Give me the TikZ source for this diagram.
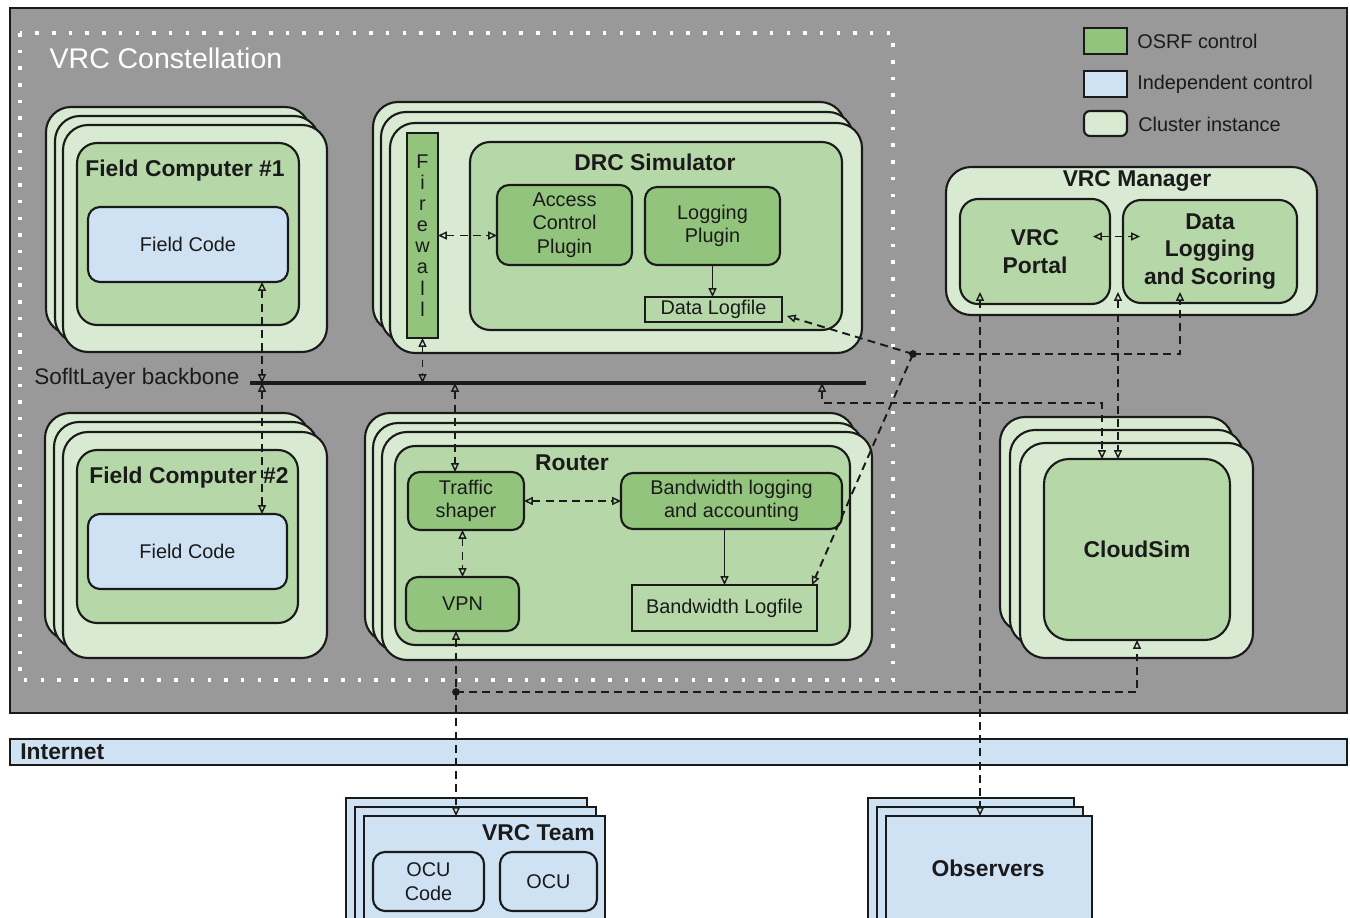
\documentclass[tikz,border=0pt]{standalone}
\usepackage{fontspec}
\setmainfont{Liberation Sans}
\usepackage{tikz}
\usetikzlibrary{arrows.meta}
\definecolor{bggray}{HTML}{999999}
\definecolor{clusterc}{HTML}{D9EAD3}
\definecolor{midgreen}{HTML}{B6D7A8}
\definecolor{darkgreen}{HTML}{93C47D}
\definecolor{lightblue}{HTML}{CFE2F3}
\definecolor{edge}{HTML}{1A1A1A}
\newcommand{\vrcreg}{\fontsize{11.3}{13.4}\selectfont}
\newcommand{\vrcbold}{\fontsize{13}{15.6}\selectfont\bfseries}

\begin{document}
\begin{tikzpicture}[x=0.02cm, y=-0.02cm,
    clusterbox/.style={draw=edge, line width=1.2pt, fill=clusterc, rounded corners=0.5cm},
    midbox/.style={draw=edge, line width=1.2pt, fill=midgreen, rounded corners=0.4cm, inner sep=0pt, outer sep=0pt},
    plugin/.style={draw=edge, line width=1.2pt, fill=darkgreen, rounded corners=0.24cm, inner sep=0pt, outer sep=0pt, align=center, font=\vrcreg, text=edge},
    fieldcode/.style={plugin, fill=lightblue},
    logfile/.style={plugin, fill=midgreen, rounded corners=0pt},
    headtxt/.style={font=\vrcbold, text=edge, align=center},
    dlink/.style={draw=edge, line width=1.1pt, dash pattern=on 4.5pt off 3pt, >={Triangle[open,length=5pt,width=4.5pt,line width=0.8pt]}},
    flow/.style={draw=edge, line width=1.1pt, ->, >={Triangle[open,length=5pt,width=4.5pt,line width=0.8pt]}}]
    \useasboundingbox (0,0) rectangle (1350,918);
    \clip (0,0) rectangle (1350,918);
    \fill[white] (0,0) rectangle (1350,918);
    \draw[fill=bggray, draw=edge, line width=1.2pt] (10,8) rectangle (1347,713);
    \draw[white, line width=2pt, dash pattern=on 2pt off 7.5pt] (20,33) rectangle (893,680);
    \node[white, font=\fontsize{16.2}{19}\selectfont] (con) at (166,58) {VRC Constellation};

    % legend
    \node[plugin, rounded corners=0pt, minimum width=0.86cm, minimum height=0.52cm] (lga) at (1105.5,41) {};
    \node[fieldcode, rounded corners=0pt, minimum width=0.86cm, minimum height=0.52cm] (lgb) at (1105.5,84) {};
    \node[clusterbox, rounded corners=0.12cm, inner sep=0pt, minimum width=0.86cm, minimum height=0.5cm] (lgc) at (1105.5,123.5) {};
    \node[anchor=west, inner sep=0pt, font=\vrcreg, text=edge] (lgat) at (1137,41) {OSRF control};
    \node[anchor=west, inner sep=0pt, font=\vrcreg, text=edge] (lgbt) at (1137,84) {Independent control};
    \node[anchor=west, inner sep=0pt, font=\vrcreg, text=edge] (lgct) at (1138,124) {Cluster instance};

    % field computer 1
    \draw[clusterbox] (46,107) rectangle (310,334);
    \draw[clusterbox] (55,116) rectangle (319,343);
    \draw[clusterbox] (63,125) rectangle (327,352);
    \node[midbox, minimum width=4.44cm, minimum height=3.64cm] (fca) at (188,234) {};
    \node[headtxt] (fcat) at (185,171) {Field Computer \#1};
    \node[fieldcode, minimum width=4cm, minimum height=1.5cm] (codea) at (188,244.5) {Field Code};

    % simulator
    \draw[clusterbox] (373,102) rectangle (845,332);
    \draw[clusterbox] (381,112) rectangle (853,342);
    \draw[clusterbox] (390,123) rectangle (862,353);
    \node[plugin, rounded corners=0pt, minimum width=0.62cm, minimum height=4.1cm, font=\fontsize{11.3}{12}\selectfont] (fw) at (422.5,235.5) {F\\i\\r\\e\\w\\a\\l\\l};
    \node[midbox, minimum width=7.44cm, minimum height=3.76cm] (sim) at (656,236) {};
    \node[headtxt] (simt) at (655,162) {DRC Simulator};
    \node[plugin, minimum width=2.7cm, minimum height=1.6cm] (acp) at (564.5,225) {Access\\Control\\Plugin};
    \node[plugin, minimum width=2.7cm, minimum height=1.56cm] (lgp) at (712.5,226) {Logging\\Plugin};
    \node[logfile, minimum width=2.74cm, minimum height=0.5cm] (dlf) at (713.5,309.5) {Data Logfile};

    % backbone
    \coordinate (bbl) at (250,383);
    \coordinate (bbr) at (866,383);
    \coordinate (bba) at (262,383);
    \coordinate (bbb) at (422.5,383);
    \coordinate (bbc) at (455,383);
    \coordinate (bbd) at (822,383);
    \draw[edge, line width=2.3pt] (bbl) -- (bbr);
    \node[font=\fontsize{12.8}{15}\selectfont, text=edge] (bbt) at (137,379) {SofltLayer backbone};

    % router
    \draw[clusterbox] (365,413) rectangle (855,642);
    \draw[clusterbox] (373,423) rectangle (863,651);
    \draw[clusterbox] (382,432) rectangle (872,660);
    \node[midbox, minimum width=9.1cm, minimum height=3.98cm] (rtr) at (622.5,545.5) {};
    \node[headtxt] (rtrt) at (572,463) {Router};
    \node[plugin, minimum width=2.32cm, minimum height=1.16cm] (ts) at (466,501) {Traffic\\shaper};
    \node[plugin, minimum width=4.42cm, minimum height=1.12cm] (bwl) at (731.5,501) {Bandwidth logging\\and accounting};
    \node[plugin, minimum width=2.26cm, minimum height=1.08cm] (vpn) at (462.5,604) {VPN};
    \node[logfile, minimum width=3.7cm, minimum height=0.92cm] (bwf) at (724.5,608) {Bandwidth Logfile};

    % field computer 2
    \draw[clusterbox] (45,413) rectangle (309,640);
    \draw[clusterbox] (54,422) rectangle (318,649);
    \draw[clusterbox] (63,432) rectangle (327,658);
    \node[midbox, minimum width=4.42cm, minimum height=3.46cm] (fcb) at (187.5,536.5) {};
    \node[headtxt] (fcbt) at (189,478) {Field Computer \#2};
    \node[fieldcode, minimum width=3.98cm, minimum height=1.5cm] (codeb) at (187.5,551.5) {Field Code};

    % manager
    \node[clusterbox, inner sep=0pt, outer sep=0pt, minimum width=7.42cm, minimum height=2.96cm] (mgr) at (1131.5,241) {};
    \node[headtxt] (mgrt) at (1137,181) {VRC Manager};
    \node[midbox, headtxt, rounded corners=0.36cm, minimum width=3cm, minimum height=2.1cm] (portal) at (1035,251.5) {VRC\\Portal};
    \node[midbox, headtxt, rounded corners=0.36cm, minimum width=3.48cm, minimum height=2.06cm] (dls) at (1210,251.5) {Data\\Logging\\and Scoring};

    % cloudsim
    \draw[clusterbox] (1000,417) rectangle (1233,632);
    \draw[clusterbox] (1010,430) rectangle (1243,645);
    \draw[clusterbox] (1020,443) rectangle (1253,658);
    \node[midbox, headtxt, rounded corners=0.5cm, minimum width=3.72cm, minimum height=3.62cm] (cs) at (1137,549.5) {CloudSim};

    % internet
    \node[fieldcode, rounded corners=0pt, minimum width=26.74cm, minimum height=0.52cm] (net) at (678.5,752) {};
    \node[headtxt, anchor=west, inner sep=0pt] (nett) at (20,752) {Internet};

    % team
    \draw[fill=lightblue, draw=edge, line width=1.2pt] (346,798) rectangle (587,934);
    \draw[fill=lightblue, draw=edge, line width=1.2pt] (355,807) rectangle (596,934);
    \node[fieldcode, rounded corners=0pt, minimum width=4.82cm, minimum height=2.36cm] (team) at (484.5,875) {};
    \node[headtxt, anchor=east, inner sep=0pt] (teamt) at (595,833) {VRC Team};
    \node[fieldcode, minimum width=2.22cm, minimum height=1.18cm] (ocuc) at (428.5,881.5) {OCU\\Code};
    \node[fieldcode, minimum width=1.94cm, minimum height=1.18cm] (ocu) at (548.5,881.5) {OCU};

    % observers
    \draw[fill=lightblue, draw=edge, line width=1.2pt] (868,798) rectangle (1074,934);
    \draw[fill=lightblue, draw=edge, line width=1.2pt] (877,807) rectangle (1083,934);
    \node[fieldcode, rounded corners=0pt, minimum width=4.12cm, minimum height=2.36cm] (obs) at (989,875) {};
    \node[headtxt] (obst) at (988,868) {Observers};

    % connections
    \coordinate (hub) at (913,354);
    \coordinate (lan) at (456,692);
    \coordinate (bend) at (1102,403);
    \coordinate (dlsin) at (1180,292);
    \coordinate (portin) at (980,292);
    \coordinate (mgrin) at (1118,292);
    \draw[dlink,<->] (bba |- codea.south) -- (bba);
    \draw[dlink,<->] (bba) -- (bba |- codeb.north);
    \draw[dlink,<->] (fw.south) -- (bbb);
    \draw[dlink,<->] (fw.east) -- (fw.east -| acp.west);
    \draw[flow] (lgp.south) -- (lgp.south |- dlf.north);
    \draw[dlink,<->] (bbc) -- (bbc |- ts.north);
    \draw[dlink,<->] (vpn.north |- ts.south) -- (vpn.north);
    \draw[dlink,<->] (ts.east) -- (bwl.west);
    \draw[flow] (bwf.north |- bwl.south) -- (bwf.north);
    \draw[dlink,->] (hub) -- ([xshift=2.8pt,yshift=-3.7pt]dlf.east);
    \draw[dlink,->] (hub) -- ([xshift=-2.8pt]bwf.north east);
    \draw[dlink,->] (hub) -| (dlsin);
    \draw[dlink,<->] (bbd) |- (bend) -- (bend |- cs.north);
    \draw[dlink,<->] (portin) -- (portin |- obs.north);
    \draw[dlink,<->] (mgrin) -- (mgrin |- cs.north);
    \draw[dlink,<->] ([xshift=-0.34cm,yshift=0.3cm]portal.east) -- ([xshift=0.34cm,yshift=0.3cm]dls.west);
    \draw[dlink,<->] (lan |- vpn.south) -- (lan |- team.north);
    \draw[dlink,->] (lan) -| (cs.south);
    \fill[edge] (hub) circle (2.2pt);
    \fill[edge] (lan) circle (2.2pt);
\end{tikzpicture}
\end{document}
